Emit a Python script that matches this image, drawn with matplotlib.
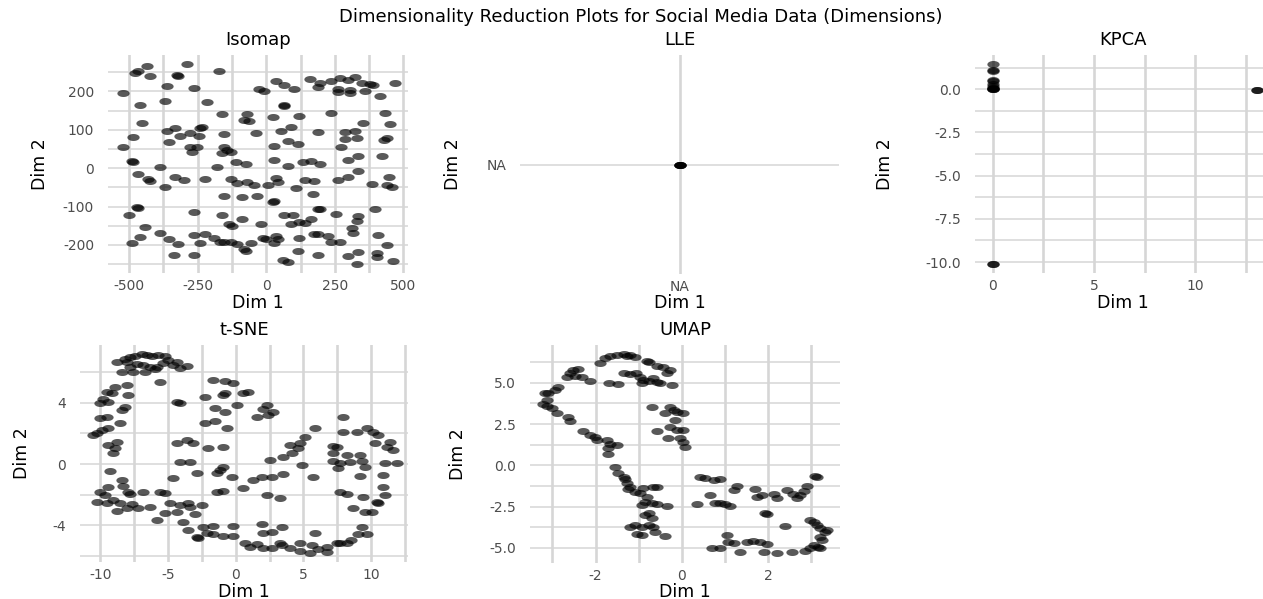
import numpy as np
import matplotlib
matplotlib.use("Agg")
import matplotlib.pyplot as plt
from matplotlib.path import Path

# ---------------------------------------------------------
# data
# ---------------------------------------------------------
iso_x = [-436, -467, -479, -289, -326, -320, -424, -173, -363, -265, -522, -461, -369, -216,
         66, 64, 36, 66, 103, -26, -7, 158, 195, 238, 268, 299, 323, 348, 379, 391, 470, 189,
         262, 305, 262, 305, 360, 415, -160, -69, -81, -62, 23, 121, 238, 434, 354, 452,
         -454, -363, -332, -314, -277, -240, -234, -246, -154, -38, 54, 91, 189, 287, 323,
         287, 330, 428, 440, -485, -522, -356, -277, -252, -271, -154, -142, -160, -130, 29,
         78, 115, 274, -491, -485, -387, -179, -111, -75, 29, 78, 134, 164, 195, 299, 336,
         421, -467, -430, -424, -332, -301, -369, -222, -130, -105, -69, -44, 5, 36, 42, 109,
         140, 176, 170, 262, 299, 336, 385, 446, 440, 458, -154, -87, -32, 23, 27, 189, 195,
         256, 336, 330, 397, -473, -467, -500, -265, -160, -87, -136, -124, -20, 66, 97, 91,
         121, 140, 164, 189, 225, 311, 317, 409, 440, -442, -387, -461, -491, -356, -320,
         -265, -222, -240, -191, -167, -154, -130, -105, -81, -75, -56, -13, -1, 36, 42, 29,
         121, 176, 238, 268, 115, 189, 299, 336, 330, 403, 403, 464, -338, -265, 60, 78]
iso_y = [266, 254, 249, 272, 243, 239, 239, 254, 214, 208, 197, 165, 176, 172,
         165, 161, 226, 217, 206, 206, 200, 232, 221, 228, 234, 230, 237, 223, 220, 217, 223, 211,
         206, 204, 199, 197, 201, 188, 141, 141, 126, 124, 133, 136, 143, 143, 119, 115,
         119, 98, 104, 84, 93, 104, 108, 84, 89, 93, 97, 107, 95, 95, 98,
         76, 78, 74, 78, 82, 54, 69, 55, 56, 43, 55, 48, 39, 43, 58,
         72, 62, 56, 19, 15, 3, 3, 17, 10, 22, 7, 15, 20, 10, 22, 33,
         32, -15, -29, -32, -23, -30, -48, -29, -29, -39, -35, -43, -43, -26, -35, -52,
         -30, -32, -67, -30, -23, -6, -41, -23, -43, -49, -72, -76, -72, -87, -85, -107, -105,
         -119, -124, -138, -107, -100, -104, -121, -114, -123, -131, -145, -150, -145, -121, -121, -145,
         -141, -143, -133, -171, -176, -155, -169, -174, -201, -152, -168, -180, -194, -185, -197,
         -174, -172, -195, -182, -191, -191, -191, -197, -211, -216, -194, -182, -185, -176, -184, -194,
         -181, -171, -191, -193, -216, -225, -228, -219, -249, -220, -232, -242, -225, -226, -240, -244]

lle_x = [0.0, 0.0, 0.0, 0.0]
lle_y = [0.0, 0.0, 0.0, 0.0]

kpca_x = [0, 0, 0, 0, 0, 0, 0, 0, 0, 0, 0, 0, 0, 0, 13.05, 13.05]
kpca_y = [1.45, 1.10, 1.05, 0.55, 0.50, 0.30, 0.20, 0.10, 0.05, 0.0, 0.0, 0.0, -10.1, -10.1,
          -0.02, -0.02]

tsne_x = [-8.79, -8.18, -7.81, -7.44, -6.95, -6.58, -6.21, -5.71, -5.22, -4.98, -4.36, -3.62,
          -4.11, -4.61, -5.34, -5.84, -6.33, -6.82, -7.32, -7.81, -8.42, -7.56, -6.70, -5.96,
          -8.05, -5.59, -8.05, -8.92, -9.53, -9.16, -7.93, -9.78, -9.41, -10.02, -8.18, -8.42,
          -9.53, -10.02, -8.55, -9.41, -9.90, -10.52, -10.27, -8.79, -9.41, -8.92, -9.04, -9.29,
          -8.42, -9.41, -8.30, -10.02, -9.66, -7.93, -7.81, -6.82, -5.59, -5.22, -10.27, -9.53,
          -9.04, -8.55, -7.68, -7.19, -6.33, -8.05, -8.79, -5.84, -4.85, -4.11, -3.50, -4.36,
          -5.22, -3.37, -3.87, -2.51, -3.00, -3.50, -1.65, -0.79, -0.17, 0.57, 0.94, -0.79,
          -0.91, -2.27, -4.36, -4.11, -1.53, -0.79, 0.07, 2.29, 2.04, 2.78, 2.41, 1.55, -2.27,
          -1.53, -0.67, -4.36, -3.62, -3.13, -2.02, -0.91, -4.11, -3.37, -0.91, -1.16, -1.40,
          -2.88, -4.61, -0.30, -1.40, -0.91, 0.57, 1.31, 1.92, 2.66, 3.52, 2.29, 3.28, 5.74,
          4.88, 2.54, 3.52, 4.14, 4.63, 4.01, 4.75, 5.12, 5.86, 7.96, 7.96, 8.94, 9.68, 10.17,
          10.54, 7.46, 7.22, 8.20, 9.19, 7.22, 7.22, 7.71, 8.45, 9.31, 9.56, 7.59, 9.19, 10.30,
          11.40, 11.16, 11.65, 11.90, 11.03, 10.91, 10.91, 11.03, 10.54, 10.42, 9.43, 7.71, 8.20,
          8.69, 9.56, 10.05, 9.31, 9.68, 9.06, 8.50, 7.71, 5.86, -2.39, -1.65, -0.17, 1.92,
          2.04, 2.66, 3.40, -2.88, -2.76, -2.14, -1.65, -0.91, -0.17, 0.69, 1.06, 1.55, 2.04,
          2.66, 3.40, 4.01, 4.75, 5.62, 6.11, 6.72, 6.72, 7.46, 8.20, 5.49, 4.75, 3.28]
tsne_y = [6.67, 6.83, 6.96, 7.04, 7.17, 7.11, 7.04, 7.11, 7.04, 6.78, 6.67, 6.39,
          6.24, 6.46, 6.57, 6.35, 6.35, 6.46, 6.52, 6.35, 6.02, 5.98, 6.02, 6.17,
          6.67, 5.33, 5.15, 5.04, 4.72, 4.61, 4.50, 4.22, 4.07, 3.96, 3.74, 3.52,
          3.09, 2.98, 2.70, 2.33, 2.22, 1.89, 2.00, 1.46, 1.24, 1.02, 0.70, -0.46,
          -1.04, -1.48, -1.43, -1.80, -2.02, -1.80, -1.96, -1.80, -1.80, -1.91, -2.46, -2.52,
          -2.35, -2.52, -2.61, -2.89, -2.78, -2.89, -3.04, -3.65, -2.57, -2.67, -2.57, -3.11,
          -3.17, -2.78, -3.76, -2.67, -3.26, -4.30, 5.48, 5.41, 5.26, 4.61, 4.72, 4.61,
          4.50, 4.39, 4.07, 3.96, 3.67, 3.41, 3.85, 3.85, 3.57, 3.41, 3.20, 3.04, 2.70,
          2.83, 2.37, 1.39, 1.57, 1.39, 1.02, 1.13, 0.11, 0.15, -0.17, -0.39, -0.57,
          -0.61, -0.93, -0.83, -1.80, -1.76, -1.59, -1.04, -0.83, -0.83, -0.65, -2.02, -2.24, -0.83,
          -0.07, 0.26, 0.48, 0.70, 1.02, 1.24, 1.35, 1.78, 2.33, 3.09, 2.11, 2.11, 2.33, 2.11,
          1.89, 1.13, 1.17, 0.59, 0.59, 0.70, 0.22, 0.04, 0.15, 0.22, -0.17, -0.28, -0.78, 1.35,
          1.46, 1.13, 0.91, 0.04, 0.04, -0.72, -1.48, -2.02, -2.57, -2.46, -2.13, -1.80, -1.96,
          -2.89, -3.11, -3.15, -4.09, -4.59, -4.57, -4.96, -5.13, -4.52, -4.09, -4.04, -4.04, -3.91,
          -4.48, -4.41, -4.09, -4.74, -4.85, -4.52, -4.57, -4.70, -4.70, -5.17, -5.39, -5.22, -5.50,
          -5.50, -5.28, -5.50, -5.17, -5.28, -5.57, -5.72, -5.39, -5.17, -5.13, -5.83, -5.65, -5.17]

umap_x = [-1.90, -1.78, -1.66, -1.51, -1.35, -1.20, -1.08, -1.28, -0.81, -0.77, -0.58, -0.43,
          -0.35, -0.27, -1.35, -1.20, -1.05, -0.97, -0.89, -0.93, -0.77, -0.66, -0.58, -0.50,
          -0.23, -1.68, -1.47, -2.52, -2.59, -2.40, -2.32, -2.67, -2.48, -2.13, -2.86, -2.94,
          -3.10, -3.17, -3.13, -3.21, -3.13, -3.02, -2.90, -2.63, -2.59, -2.28, -2.13, -2.01,
          -1.97, -1.74, -1.66, -1.51, -1.70, -1.70, -0.70, -0.27, -0.19, -0.12, 0.04, -0.39,
          -0.15, -0.27, -0.12, 0.04, -0.58, -0.31, -0.04, 0.04, 0.08, -1.55, -1.47, -1.35,
          -1.32, -1.28, -1.20, -1.24, -1.08, -0.89, -0.97, -0.81, -0.66, -0.58, -0.85, -0.70,
          -0.93, -0.58, -0.35, -0.77, -0.85, -0.70, -1.20, -1.08, -0.93, -0.77, -0.66, -1.04,
          -0.93, -0.62, -0.39, 0.43, 0.54, 0.74, 0.89, 0.66, 0.35, 0.77, 0.89, 1.01, 1.12,
          1.28, 1.20, 1.70, 1.74, 1.86, 2.13, 2.21, 2.44, 2.59, 2.67, 2.75, 2.83, 2.90, 3.10,
          3.13, 1.93, 1.97, 2.40, 2.98, 3.06, 3.13, 3.21, 3.33, 3.37, 3.21, 3.25, 1.04, 1.08,
          1.20, 1.35, 1.51, 1.66, 1.82, 1.97, 1.90, 2.21, 2.55, 2.86, 2.98, 3.06, 3.21, 3.17,
          0.70, 0.89]
umap_y = [6.21, 6.47, 6.61, 6.67, 6.73, 6.67, 6.57, 6.61, 6.33, 6.27, 6.01, 5.93,
          5.56, 5.77, 5.56, 5.52, 5.56, 5.36, 5.16, 5.00, 5.12, 5.26, 5.06, 5.00,
          4.86, 5.00, 4.92, 5.77, 5.56, 5.81, 5.32, 5.36, 5.40, 5.12, 4.76, 4.56,
          4.40, 4.35, 3.95, 3.71, 3.59, 3.45, 3.15, 2.90, 2.70, 2.10, 1.83, 1.69,
          1.53, 1.53, 1.29, 1.23, 1.03, 0.67, 3.51, 3.51, 3.35, 3.25, 3.19, 3.15,
          2.74, 2.34, 2.14, 2.14, 2.08, 1.63, 1.63, 1.43, 1.09, -0.08, -0.48, -0.69,
          -0.85, -1.09, -1.29, -1.45, -1.59, -1.39, -1.69, -1.90, -1.33, -1.29, -2.20, -2.30,
          -2.40, -2.36, -2.44, -2.90, -3.00, -3.21, -3.71, -3.61, -3.71, -3.61, -3.71, -4.15,
          -4.21, -4.01, -4.27, -0.73, -0.79, -0.89, -0.85, -1.79, -2.34, -2.30, -2.30, -2.34, -2.44,
          -1.25, -1.49, -1.45, -1.90, -1.79, -1.73, -2.00, -1.49, -1.73, -2.00, -1.79, -1.53, -1.25, -0.65,
          -0.69, -2.86, -2.94, -3.67, -3.31, -3.41, -3.61, -3.81, -4.01, -3.91, -4.31, -4.52, -4.21, -4.62,
          -4.68, -5.22, -4.62, -4.56, -4.62, -4.76, -5.26, -5.32, -5.22, -5.16, -5.02, -4.82, -5.02, -4.96,
          -5.02, -5.02]

W, H = 1263, 599
GRID = "#d6d6d6"
TICK = "#4d4d4d"

plt.rcParams["font.family"] = "DejaVu Sans"
plt.rcParams["axes.unicode_minus"] = False

# wide flat dot, the reference picture is stretched sideways
t = np.linspace(0, 2 * np.pi, 41)
dot = Path(np.column_stack([1.75 * np.cos(t), np.sin(t)]), closed=True)

fig = plt.figure(figsize=(W / 100, H / 100), dpi=100)
fig.text(641 / W, 1 - 17 / H, "Dimensionality Reduction Plots for Social Media Data (Dimensions)",
         ha="center", va="center", fontsize=13)


def panel(box, x, y, xlim, ylim, xmaj, xmin, ymaj, ymin, title, title_y, ylab_x, xlab_y,
          xlabels=None, ylabels=None):
    x0, y0, x1, y1 = box
    w, h = x1 - x0, y1 - y0
    ax = fig.add_axes([x0 / W, 1 - y1 / H, w / W, h / H])
    ax.scatter(x, y, s=78, marker=dot, color="black", alpha=0.65, linewidths=0, zorder=3)
    ax.set_xlim(xlim)
    ax.set_ylim(ylim)
    ax.set_xticks(xmaj)
    ax.set_xticks(xmin, minor=True)
    ax.set_yticks(ymaj)
    ax.set_yticks(ymin, minor=True)
    if xlabels is not None:
        ax.set_xticklabels(xlabels)
    if ylabels is not None:
        ax.set_yticklabels(ylabels)
    ax.xaxis.grid(True, which="both", color=GRID, lw=1.9)
    ax.yaxis.grid(True, which="both", color=GRID, lw=1.1)
    ax.set_axisbelow(True)
    for s in ax.spines.values():
        s.set_visible(False)
    ax.tick_params(which="both", length=0, labelsize=10, labelcolor=TICK)
    ax.tick_params(axis="x", pad=4)
    ax.tick_params(axis="y", pad=10)
    ax.set_xlabel("Dim 1", fontsize=12.5, va="center")
    ax.set_ylabel("Dim 2", fontsize=12.5, va="center")
    ax.xaxis.set_label_coords(0.5, (y1 - xlab_y) / h)
    ax.yaxis.set_label_coords((ylab_x - x0) / w, 0.5)
    ax.text(0.5, (y1 - title_y) / h, title, transform=ax.transAxes,
            ha="center", va="center", fontsize=13)
    return ax


panel((108, 55, 408, 273), iso_x, iso_y, (-577, 517), (-273, 295),
      [-500, -250, 0, 250, 500], [-375, -125, 125, 375],
      [-200, -100, 0, 100, 200], [-250, -150, -50, 50, 150, 250],
      "Isomap", 40, 40, 303)

panel((520, 55, 839, 274), lle_x, lle_y, (-1, 1), (-1, 1),
      [0], [], [0], [], "LLE", 40, 453, 303, xlabels=["NA"], ylabels=["NA"])

panel((975, 55, 1271, 273), kpca_x, kpca_y, (-0.89, 13.76), (-10.63, 1.98),
      [0, 5, 10], [2.5, 7.5, 12.5],
      [-10, -7.5, -5, -2.5, 0], [-8.75, -6.25, -3.75, -1.25, 1.25],
      "KPCA", 40, 885, 303, ylabels=["-10.0", "-7.5", "-5.0", "-2.5", "0.0"])

panel((80, 345, 408, 562), tsne_x, tsne_y, (-11.51, 12.73), (-6.39, 7.76),
      [-10, -5, 0, 5, 10], [-7.5, -2.5, 2.5, 7.5, 12.5],
      [-4, 0, 4], [-6, -2, 2, 6],
      "t-SNE", 330, 22, 592)

panel((530, 345, 840, 563), umap_x, umap_y, (-3.52, 3.67), (-5.91, 7.28),
      [-2, 0, 2], [-3, -1, 1, 3],
      [-5, -2.5, 0, 2.5, 5], [-3.75, -1.25, 1.25, 3.75, 6.25],
      "UMAP", 330, 458, 592, ylabels=["-5.0", "-2.5", "0.0", "2.5", "5.0"])

fig.savefig("out.png", dpi=100)
